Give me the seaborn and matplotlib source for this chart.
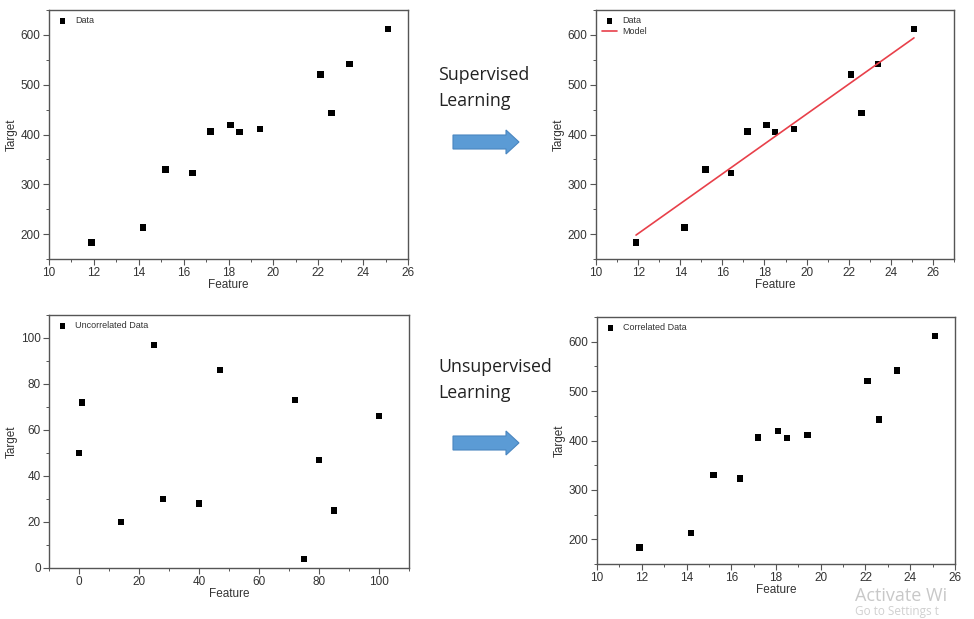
import matplotlib
matplotlib.use("Agg")
import matplotlib.pyplot as plt
import seaborn as sns
import pandas as pd
from matplotlib.patches import FancyArrow
from matplotlib.ticker import MultipleLocator, AutoMinorLocator

# ---- data ----
feature = [11.9, 14.2, 15.2, 16.4, 17.2, 18.1, 18.5, 19.4, 22.1, 22.6, 23.4, 25.1]
target = [183, 213, 330, 323, 406, 419, 405, 411, 520, 443, 542, 612]
model_x = [11.9, 25.1]
model_y = [198, 594]
unc_feature = [0, 1, 14, 25, 28, 40, 47, 72, 75, 80, 85, 100]
unc_target = [50, 72, 20, 97, 30, 28, 86, 73, 4, 47, 25, 66]

sns.set_style("ticks")
plt.rcParams['font.family'] = ['Liberation Sans', 'DejaVu Sans']

W, H = 974, 619
fig = plt.figure(figsize=(W / 100, H / 100), dpi=100)
fig.patch.set_facecolor("white")


def px_axes(l, t, r, b):
    return fig.add_axes([l / W, 1 - b / H, (r - l) / W, (b - t) / H])


df = pd.DataFrame({"Feature": feature, "Target": target})
df_unc = pd.DataFrame({"Feature": unc_feature, "Target": unc_target})
df_model = pd.DataFrame({"Feature": model_x, "Target": model_y})

gray = "#333333"


def style(ax, xlim, ylim, xmaj, ymaj):
    ax.set_xlim(*xlim)
    ax.set_ylim(*ylim)
    ax.xaxis.set_major_locator(MultipleLocator(xmaj))
    ax.yaxis.set_major_locator(MultipleLocator(ymaj))
    ax.xaxis.set_minor_locator(AutoMinorLocator(2))
    ax.yaxis.set_minor_locator(AutoMinorLocator(2))
    for s in ax.spines.values():
        s.set_visible(True)
        s.set_color("#555555")
        s.set_linewidth(1.0)
    ax.tick_params(which="major", direction="out", length=4, width=0.8,
                   colors="#555555", labelsize=8.5, labelcolor=gray, pad=2)
    ax.tick_params(which="minor", direction="out", length=2.5, width=0.7,
                   colors="#555555")
    ax.set_xlabel("Feature", fontsize=8.5, color=gray, labelpad=0)
    ax.set_ylabel("Target", fontsize=8.5, color=gray, labelpad=2)
    leg = ax.legend(loc="upper left", frameon=False, fontsize=6.5,
                    handlelength=1.6, borderaxespad=0.3, labelspacing=0.2,
                    handletextpad=0.6, markerscale=0.8)
    for t in leg.get_texts():
        t.set_color(gray)


scatter_kw = dict(marker="s", s=22, color="black", edgecolor="none")

# top-left
ax1 = px_axes(49, 10, 408, 259)
sns.scatterplot(data=df, x="Feature", y="Target", ax=ax1, label="Data", **scatter_kw)
style(ax1, (10, 26), (150, 650), 2, 100)

# top-right
ax2 = px_axes(596, 10, 954, 259)
sns.scatterplot(data=df, x="Feature", y="Target", ax=ax2, label="Data", **scatter_kw)
sns.lineplot(data=df_model, x="Feature", y="Target", ax=ax2, label="Model",
             color="#e8404a", linewidth=1.2)
style(ax2, (10, 27), (150, 650), 2, 100)

# bottom-left
ax3 = px_axes(49, 315, 409, 568)
sns.scatterplot(data=df_unc, x="Feature", y="Target", ax=ax3,
                label="Uncorrelated Data", **scatter_kw)
style(ax3, (-10, 110), (0, 110), 20, 20)

# bottom-right
ax4 = px_axes(597, 317, 955, 564)
sns.scatterplot(data=df, x="Feature", y="Target", ax=ax4,
                label="Correlated Data", **scatter_kw)
style(ax4, (10, 26), (150, 650), 2, 100)

# middle annotations
tfont = dict(fontsize=12.8, color="#222222", family=["Open Sans", "DejaVu Sans"],
             ha="left", va="center", linespacing=1.55)
fig.text(438 / W, 1 - 88 / H, "Supervised\nLearning", **tfont)
fig.text(438 / W, 1 - 380 / H, "Unsupervised\nLearning", **tfont)

arrow_color = "#5b9bd5"
for yc in (142, 443):
    fig.patches.append(FancyArrow(453 / W, 1 - yc / H, 66 / W, 0,
                                  width=14 / H, head_width=24 / H,
                                  head_length=13 / W, length_includes_head=True,
                                  transform=fig.transFigure, facecolor=arrow_color,
                                  edgecolor="#4a86c0", linewidth=0.8))

# watermark
fig.text(855 / W, 1 - 596 / H, "Activate Wi", fontsize=13, color="#c8c8c8",
         family=["Open Sans", "DejaVu Sans"], ha="left", va="center")
fig.text(855 / W, 1 - 612 / H, "Go to Settings t", fontsize=8.5, color="#d0d0d0",
         family=["Open Sans", "DejaVu Sans"], ha="left", va="center")

fig.savefig("out.png", dpi=100, facecolor="white")
